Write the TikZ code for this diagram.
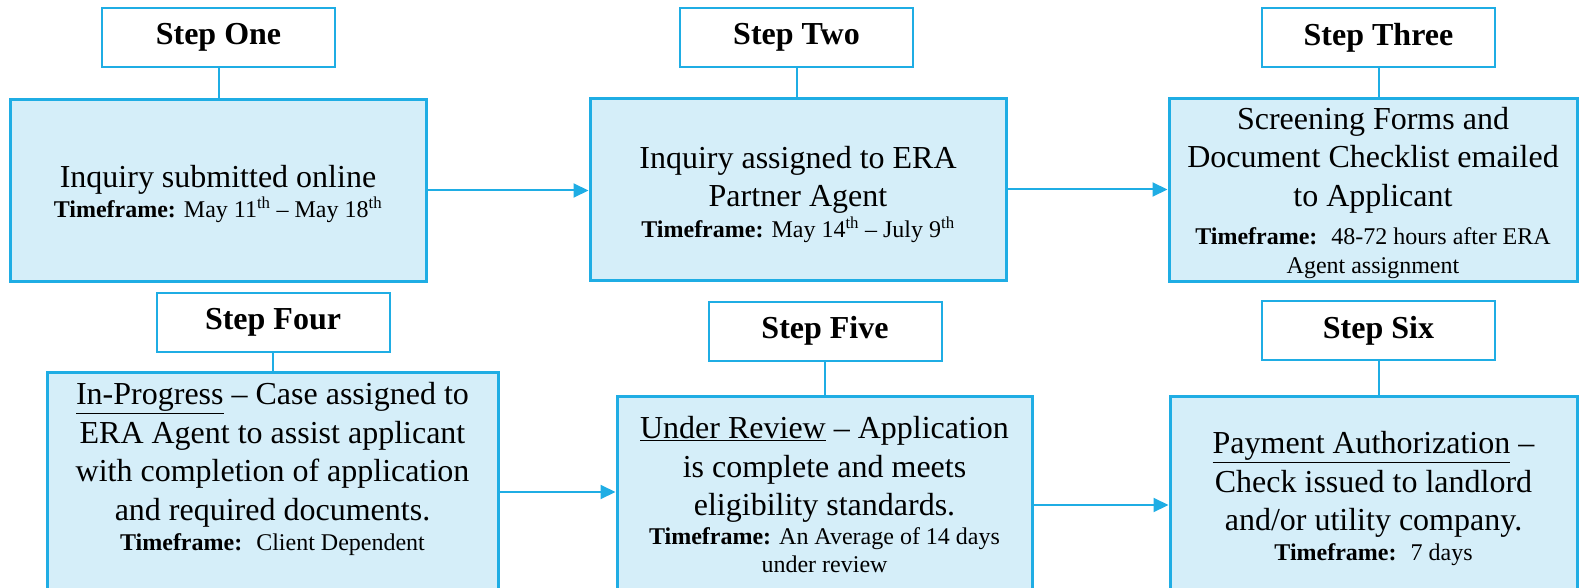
\documentclass[tikz,border=0pt]{standalone}
\usepackage{fontspec}
\setmainfont{Liberation Serif}
\usetikzlibrary{arrows.meta}
\definecolor{eraline}{RGB}{31,173,228}
\definecolor{erafill}{RGB}{213,238,249}
\newcommand{\tfline}[2][0pt]{\par\vspace{#1}{\fontsize{24}{28.5}\selectfont\textbf{Timeframe:} #2\par}}
\begin{document}
\begin{tikzpicture}[x=1pt,y=-1pt,
    stepbox/.style={draw=eraline,line width=2pt,fill=white,minimum width=233pt,minimum height=59pt,inner sep=0pt,font=\fontsize{32}{38}\selectfont\bfseries},
    mainbox/.style={draw=eraline,line width=3pt,fill=erafill,anchor=north,align=center,inner xsep=4pt,inner ysep=0pt,
      font=\fontsize{32}{38.5}\selectfont,
      execute at begin node={\spaceskip=0pt\xspaceskip=0pt\leftskip=0pt plus 1fil\rightskip=0pt plus 1fil\parfillskip=0pt}},
    link/.style={draw=eraline,line width=2pt},
    arr/.style={link,-{Triangle[length=15pt,width=14pt]}}]
  \useasboundingbox (0,0) rectangle (1579,588);
  \clip (0,0) rectangle (1579,588);
  \node[stepbox] (s1) at (218.5,37.5) {Step One};
  \node[stepbox] (s2) at (796.5,37.5) {Step Two};
  \node[stepbox] (s3) at (1378.5,37.5) {Step Three};
  \node[stepbox] (s4) at (273,322) {Step Four};
  \node[stepbox] (s5) at (825,331) {Step Five};
  \node[stepbox] (s6) at (1378.5,330.5) {Step Six};
  \node[mainbox,minimum width=416pt,text width=400pt,text height=88pt,text depth=94pt] (b1) at (218,98)
    {Inquiry submitted online\tfline[2pt]{May 11\textsuperscript{th} -- May 18\textsuperscript{th}}};
  \node[mainbox,minimum width=416pt,text width=400pt,text height=70pt,text depth=112pt] (b2) at (798,97)
    {Inquiry assigned to ERA\\Partner Agent\tfline[2pt]{May 14\textsuperscript{th} -- July 9\textsuperscript{th}}};
  \node[mainbox,minimum width=408pt,text width=400pt,text height=31pt,text depth=152pt] (b3) at (1373,97)
    {Screening Forms and\\Document Checklist emailed\\to Applicant\tfline[10pt]{\ 48-72 hours after ERA\\Agent assignment}};
  \node[mainbox,minimum width=451pt,text width=435pt,text height=32pt,text depth=250pt] (b4) at (272.5,371)
    {\underline{In-Progress} -- Case assigned to\\ERA Agent to assist applicant\\with completion of application\\and required documents.\tfline[2pt]{\ Client Dependent}};
  \node[mainbox,minimum width=415pt,text width=400pt,text height=42pt,text depth=250pt] (b5) at (824.5,395)
    {\underline{Under Review} -- Application\\is complete and meets\\eligibility standards.\tfline{An Average of 14 days\\under review}};
  \node[mainbox,minimum width=407pt,text width=395pt,text height=57pt,text depth=250pt] (b6) at (1373.5,395)
    {\underline{Payment Authorization} --\\Check issued to landlord\\and/or utility company.\tfline[1pt]{\ 7 days}};
  \draw[link] (s1) -- (s1 |- b1.north);
  \draw[link] (s2) -- (s2 |- b2.north);
  \draw[link] (s3) -- (s3 |- b3.north);
  \draw[link] (s4) -- (s4 |- b4.north);
  \draw[link] (s5) -- (s5 |- b5.north);
  \draw[link] (s6) -- (s6 |- b6.north);
  \draw[arr] (b1.east) -- (b1.east -| b2.west);
  \draw[arr] (b2.east) -- (b2.east -| b3.west);
  \coordinate (a3) at ([yshift=-121pt]b4.north east);
  \coordinate (a4) at ([yshift=-110pt]b5.north east);
  \draw[arr] (a3) -- (a3 -| b5.west);
  \draw[arr] (a4) -- (a4 -| b6.west);
\end{tikzpicture}
\end{document}
